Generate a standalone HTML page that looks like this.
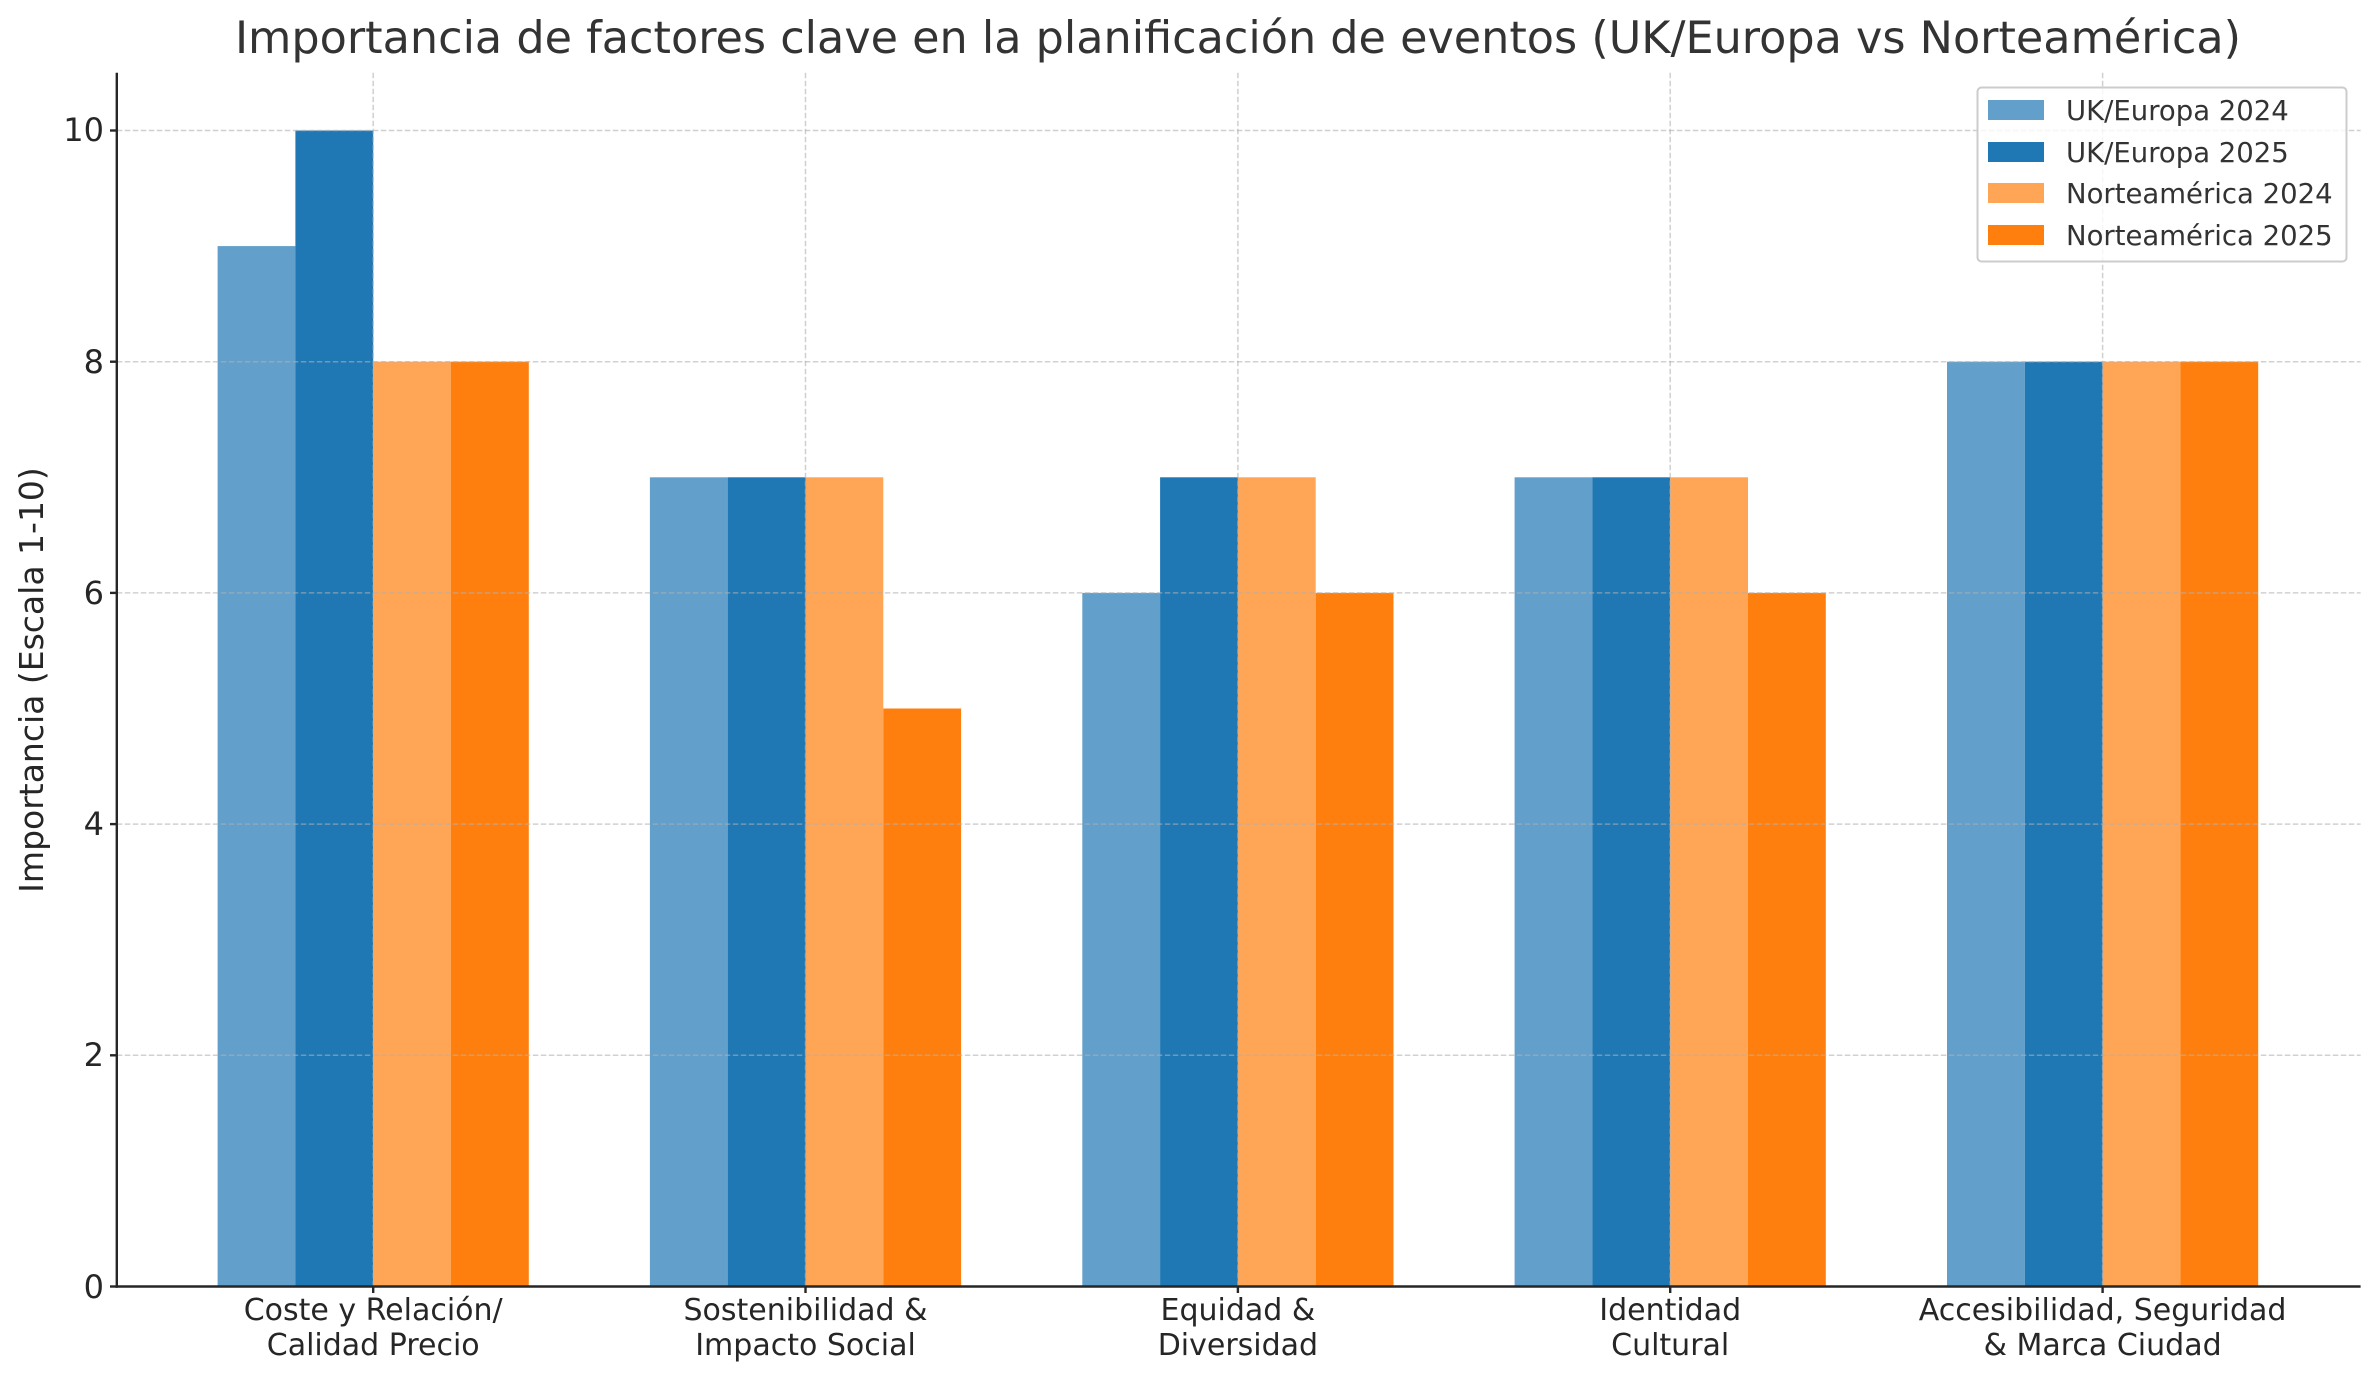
<!DOCTYPE html>
<html><head><meta charset="utf-8"><style>body{margin:0;background:#fff}svg{display:block}</style></head><body>
<svg width="2379" height="1380" xmlns="http://www.w3.org/2000/svg" font-family="DejaVu Sans, Liberation Sans, sans-serif" fill="#262626">
<rect width="2379" height="1380" fill="#fff"/>
<g>
<rect x="217.6" y="246.1" width="77.8" height="1040.4" fill="#629fca"/>
<rect x="295.4" y="130.5" width="77.8" height="1156" fill="#1f77b4"/>
<rect x="373.2" y="361.7" width="77.8" height="924.8" fill="#ffa556"/>
<rect x="451" y="361.7" width="77.8" height="924.8" fill="#ff7f0e"/>
<rect x="649.9" y="477.3" width="77.8" height="809.2" fill="#629fca"/>
<rect x="727.7" y="477.3" width="77.8" height="809.2" fill="#1f77b4"/>
<rect x="805.5" y="477.3" width="77.8" height="809.2" fill="#ffa556"/>
<rect x="883.3" y="708.5" width="77.8" height="578" fill="#ff7f0e"/>
<rect x="1082.3" y="592.9" width="77.8" height="693.6" fill="#629fca"/>
<rect x="1160.1" y="477.3" width="77.8" height="809.2" fill="#1f77b4"/>
<rect x="1237.9" y="477.3" width="77.8" height="809.2" fill="#ffa556"/>
<rect x="1315.7" y="592.9" width="77.8" height="693.6" fill="#ff7f0e"/>
<rect x="1514.6" y="477.3" width="77.8" height="809.2" fill="#629fca"/>
<rect x="1592.4" y="477.3" width="77.8" height="809.2" fill="#1f77b4"/>
<rect x="1670.2" y="477.3" width="77.8" height="809.2" fill="#ffa556"/>
<rect x="1748" y="592.9" width="77.8" height="693.6" fill="#ff7f0e"/>
<rect x="1947" y="361.7" width="77.8" height="924.8" fill="#629fca"/>
<rect x="2024.8" y="361.7" width="77.8" height="924.8" fill="#1f77b4"/>
<rect x="2102.6" y="361.7" width="77.8" height="924.8" fill="#ffa556"/>
<rect x="2180.4" y="361.7" width="77.8" height="924.8" fill="#ff7f0e"/>
</g>
<g stroke="#b0b0b0" stroke-opacity="0.6" stroke-width="1.5" stroke-dasharray="5.5,2.5" fill="none">
<line x1="116.8" x2="2360.6" y1="130.5" y2="130.5"/>
<line x1="116.8" x2="2360.6" y1="361.7" y2="361.7"/>
<line x1="116.8" x2="2360.6" y1="592.9" y2="592.9"/>
<line x1="116.8" x2="2360.6" y1="824.1" y2="824.1"/>
<line x1="116.8" x2="2360.6" y1="1055.3" y2="1055.3"/>
<line x1="373.2" x2="373.2" y1="72.8" y2="1286.5"/>
<line x1="805.5" x2="805.5" y1="72.8" y2="1286.5"/>
<line x1="1237.9" x2="1237.9" y1="72.8" y2="1286.5"/>
<line x1="1670.2" x2="1670.2" y1="72.8" y2="1286.5"/>
<line x1="2102.6" x2="2102.6" y1="72.8" y2="1286.5"/>
</g>
<g stroke="#262626" stroke-width="2.4" fill="none">
<line x1="116.8" y1="72.8" x2="116.8" y2="1287.7"/>
<line x1="115.6" y1="1286.5" x2="2360.6" y2="1286.5"/>
<line x1="110" x2="116.8" y1="130.5" y2="130.5"/>
<line x1="110" x2="116.8" y1="361.7" y2="361.7"/>
<line x1="110" x2="116.8" y1="592.9" y2="592.9"/>
<line x1="110" x2="116.8" y1="824.1" y2="824.1"/>
<line x1="110" x2="116.8" y1="1055.3" y2="1055.3"/>
<line x1="110" x2="116.8" y1="1286.5" y2="1286.5"/>
<line x1="373.2" x2="373.2" y1="1286.5" y2="1293"/>
<line x1="805.5" x2="805.5" y1="1286.5" y2="1293"/>
<line x1="1237.9" x2="1237.9" y1="1286.5" y2="1293"/>
<line x1="1670.2" x2="1670.2" y1="1286.5" y2="1293"/>
<line x1="2102.6" x2="2102.6" y1="1286.5" y2="1293"/>
</g>
<g font-size="32" text-anchor="end">
<text x="104" y="141">10</text>
<text x="104" y="373">8</text>
<text x="104" y="604">6</text>
<text x="104" y="835">4</text>
<text x="104" y="1066">2</text>
<text x="104" y="1298">0</text>
</g>
<g font-size="30" text-anchor="middle">
<text x="373.2" y="1320">Coste y Relación/</text><text x="373.2" y="1355">Calidad Precio</text>
<text x="805.5" y="1320">Sostenibilidad &amp;</text><text x="805.5" y="1355">Impacto Social</text>
<text x="1237.9" y="1320">Equidad &amp;</text><text x="1237.9" y="1355">Diversidad</text>
<text x="1670.2" y="1320">Identidad</text><text x="1670.2" y="1355">Cultural</text>
<text x="2102.6" y="1320">Accesibilidad, Seguridad</text><text x="2102.6" y="1355">&amp; Marca Ciudad</text>
</g>
<text x="1238" y="53" font-size="44.5" text-anchor="middle" fill="#333">Importancia de factores clave en la planificación de eventos (UK/Europa vs Norteamérica)</text>
<text transform="translate(43,680) rotate(-90)" font-size="33" text-anchor="middle">Importancia (Escala 1-10)</text>
<rect x="1977.5" y="87.5" width="369" height="174" rx="4" fill="#fff" fill-opacity="0.8" stroke="#cccccc" stroke-width="2"/>
<rect x="1988" y="100" width="56" height="20" fill="#629fca"/>
<rect x="1988" y="142" width="56" height="20" fill="#1f77b4"/>
<rect x="1988" y="183" width="56" height="20" fill="#ffa556"/>
<rect x="1988" y="225" width="56" height="20" fill="#ff7f0e"/>
<g font-size="27.5" fill="#333">
<text x="2066" y="120">UK/Europa 2024</text>
<text x="2066" y="162">UK/Europa 2025</text>
<text x="2066" y="203">Norteamérica 2024</text>
<text x="2066" y="245">Norteamérica 2025</text>
</g>
</svg>
</body></html>
